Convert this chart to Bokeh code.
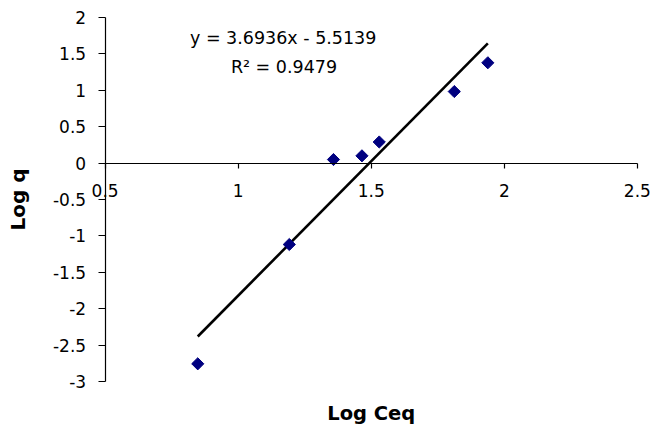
import math

from bokeh.plotting import figure
from bokeh.models import (Range1d, LinearAxis, FixedTicker, CustomJSTickFormatter,
                          Label, ColumnDataSource)
from bokeh.embed import file_html
from bokeh.resources import INLINE

# Freundlich isotherm data (log-log)
log_ceq = [0.848, 1.192, 1.358, 1.465, 1.530, 1.812, 1.938]
log_q = [-2.757, -1.118, 0.049, 0.100, 0.290, 0.983, 1.378]

# Linear trendline parameters
slope = 3.6936
intercept = -5.5139
r_squared = 0.9479

x_ticks = [0.5, 1, 1.5, 2, 2.5]
y_ticks = [-3, -2.5, -2, -1.5, -1, -0.5, 0, 0.5, 1, 1.5, 2]
x_bounds = (0.5, 2.5)
y_bounds = (-3, 2)

FONT = "DejaVu Sans"
fmt = CustomJSTickFormatter(code="return tick.toString()")

# The frame covers the whole canvas; the axes sit at fixed data positions
# so that their labels have room around them.
p = figure(width=654, height=428,
           x_range=Range1d(0.1068, 2.5643), y_range=Range1d(-3.6456, 2.2335),
           x_axis_location=None, y_axis_location=None,
           toolbar_location=None, output_backend="svg",
           min_border=0)
p.grid.visible = False
p.outline_line_color = None
p.background_fill_color = "white"
p.border_fill_color = "white"

axis_style = dict(major_label_text_font=FONT,
                  major_label_text_font_size="17px",
                  major_label_text_color="black",
                  minor_tick_out=0, minor_tick_in=0,
                  major_tick_in=0,
                  axis_line_color="black", axis_line_width=1.2,
                  major_tick_line_color="black", major_tick_line_width=1.2)

# vertical axis at Log Ceq = 0.5
yaxis = LinearAxis(ticker=FixedTicker(ticks=y_ticks), formatter=fmt,
                   fixed_location=x_bounds[0], bounds=y_bounds,
                   axis_label="Log q",
                   axis_label_text_font=FONT,
                   axis_label_text_font_style="bold",
                   axis_label_text_font_size="20px",
                   axis_label_text_color="black",
                   axis_label_standoff=20,
                   major_label_standoff=12,
                   major_tick_out=7, **axis_style)
p.add_layout(yaxis, "left")

# horizontal axis crossing at Log q = 0
xaxis = LinearAxis(ticker=FixedTicker(ticks=x_ticks), formatter=fmt,
                   fixed_location=0, bounds=x_bounds,
                   major_label_standoff=16,
                   major_tick_out=5, **axis_style)
p.add_layout(xaxis, "below")

# trendline over the range of the data
x0, x1 = min(log_ceq), max(log_ceq)
trend = ColumnDataSource(dict(x=[x0, x1],
                              y=[slope * x0 + intercept, slope * x1 + intercept]))
p.line("x", "y", source=trend, line_color="black", line_width=2.6)

p.scatter(log_ceq, log_q, marker="square", angle=math.pi / 4, size=8.6,
          fill_color="#000080", line_color="#000080")

# horizontal axis title, centred under the axis
p.add_layout(Label(x=sum(x_bounds) / 2, y=-3.445, text="Log Ceq",
                   text_align="center", text_baseline="alphabetic",
                   text_font=FONT, text_font_style="bold",
                   text_font_size="19.5px", text_color="black"))

# trendline equation and coefficient of determination
sign = "-" if intercept < 0 else "+"
eq_text = f"y = {slope:.4f}x {sign} {abs(intercept):.4f}"
r2_text = f"R\u00b2 = {r_squared:.4f}"
p.add_layout(Label(x=1.169, y=1.725, text=eq_text, text_align="center",
                   text_baseline="alphabetic", text_font=FONT,
                   text_font_size="17.5px", text_color="black"))
p.add_layout(Label(x=1.172, y=1.317, text=r2_text, text_align="center",
                   text_baseline="alphabetic", text_font=FONT,
                   text_font_size="17.5px", text_color="black"))

open("out.html", "w").write(file_html(p, INLINE))
